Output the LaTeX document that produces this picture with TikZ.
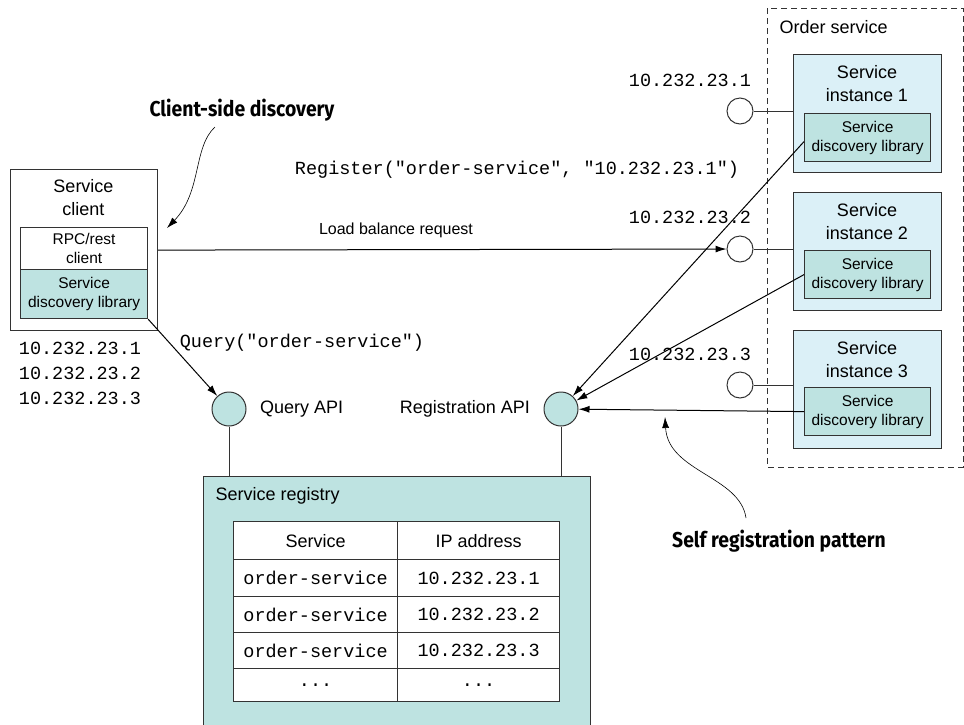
\documentclass[tikz,border=0pt]{standalone}
\usepackage{fontspec}
\setmainfont{Liberation Sans}
\setmonofont{Liberation Mono}
\newfontfamily\calloutfont[FakeStretch=0.9]{Fira Sans}
\usetikzlibrary{arrows.meta}

\definecolor{instblue}{HTML}{DBF0F7}
\definecolor{libteal}{HTML}{BEE3E1}
\definecolor{edgegray}{HTML}{333333}

\newcommand\bigtxt{\fontsize{18}{23}\selectfont}
\newcommand\midtxt{\fontsize{16}{19}\selectfont}
\newcommand\smalltxt{\fontsize{15.5}{19}\selectfont}
\newcommand\codetxt{\ttfamily\fontsize{18.5}{25}\selectfont}
\newcommand\callouttxt{\calloutfont\bfseries\fontsize{21.5}{24}\selectfont}

\tikzset{
  box/.style={draw=edgegray, line width=1.2pt, inner sep=0pt, anchor=north west},
  instbox/.style={box, fill=instblue, minimum width=148, minimum height=118},
  libbox/.style={box, fill=libteal, minimum width=126, minimum height=48, align=center, font=\smalltxt},
  port/.style={circle, draw=edgegray, line width=1pt, fill=white, minimum size=26, inner sep=0pt},
  api/.style={port, fill=libteal, minimum size=34},
  cell/.style={box, fill=white, font=\bigtxt},
  link/.style={draw=edgegray, line width=1pt},
  arr/.style={-{Latex[length=11pt,width=7pt]}, draw=black, line width=1pt},
}

\begin{document}
\begin{tikzpicture}[x=1pt, y=-1pt, font=\bigtxt]
\useasboundingbox (0,0) rectangle (964,724);

% Service client with its two layers
\node[box, minimum width=147, minimum height=161] (client) at (10,169) {};
\node[align=center] (clientlbl) at (83.5,197.5) {Service\\client};
\node[box, fill=white, minimum width=127, minimum height=42, align=center, font=\smalltxt] (rpc) at (20,227) {RPC/rest\\client};
\node[libbox, minimum width=127, minimum height=49] (clilib) at (20,269) {Service\\discovery library};
\node[align=left, font=\codetxt] (cliips) at (80,373) {10.232.23.1\\10.232.23.2\\10.232.23.3};

% Order service instances
\draw[edgegray, line width=1pt, dash pattern=on 6pt off 4pt] (767,8) rectangle (963,467);
\node[anchor=west] (ordersvc) at (776,27) {Order service};

\node[instbox] (inst1) at (793,54) {};
\node[align=center] at (867,83.5) {Service\\instance 1};
\node[libbox] (lib1) at (804,113) {Service\\discovery library};
\node[port] (port1) at (740,111) {};
\draw[link] (port1) -- (port1 -| inst1.west);
\node[font=\codetxt] (ip1) at (690,80) {10.232.23.1};

\node[instbox] (inst2) at (793,192) {};
\node[align=center] at (867,221.5) {Service\\instance 2};
\node[libbox] (lib2) at (804,250) {Service\\discovery library};
\node[port] (port2) at (740,249) {};
\draw[link] (port2) -- (port2 -| inst2.west);
\node[font=\codetxt] (ip2) at (690,217) {10.232.23.2};

\node[instbox] (inst3) at (793,330) {};
\node[align=center] at (867,359.5) {Service\\instance 3};
\node[libbox] (lib3) at (804,387) {Service\\discovery library};
\node[port] (port3) at (740,385) {};
\draw[link] (port3) -- (port3 -| inst3.west);
\node[font=\codetxt] (ip3) at (690,354) {10.232.23.3};

% Service registry and its two APIs
\node[box, fill=libteal, minimum width=387, minimum height=252] (registry) at (203,476) {};
\node[anchor=west] (reglbl) at (212,496) {Service registry};

\node[api] (qapi) at (229,409) {};
\node[anchor=west] at ([xshift=10]qapi.east) {Query API};
\node[api] (rapi) at (561,409) {};
\node[anchor=east] at ([xshift=-10]rapi.west) {Registration API};
\draw[link] (qapi) -- (qapi |- registry.north);
\draw[link] (rapi) -- (rapi |- registry.north);

% table of the registry
\node[cell, minimum width=164, minimum height=38] (svc0) at (233,521) {Service};
\node[cell, minimum width=162, minimum height=38] (ip0) at (397,521) {IP address};
\node[cell, minimum width=164, minimum height=37, font=\codetxt] (svc1) at (233,559) {order-service};
\node[cell, minimum width=162, minimum height=37, font=\codetxt] (ipa1) at (397,559) {10.232.23.1};
\node[cell, minimum width=164, minimum height=36, font=\codetxt] (svc2) at (233,596) {order-service};
\node[cell, minimum width=162, minimum height=36, font=\codetxt] (ipa2) at (397,596) {10.232.23.2};
\node[cell, minimum width=164, minimum height=36, font=\codetxt] (svc3) at (233,632) {order-service};
\node[cell, minimum width=162, minimum height=36, font=\codetxt] (ipa3) at (397,632) {10.232.23.3};
\node[cell, minimum width=164, minimum height=33, font=\codetxt] (svc4) at (233,668) {...};
\node[cell, minimum width=162, minimum height=33, font=\codetxt] (ipa4) at (397,668) {...};

% requests
\draw[arr] (client.east) -- (port2);
\node[font=\midtxt] (lbreq) at (396,230) {Load balance request};
\draw[arr] (clilib.south east) -- (qapi);
\node[font=\codetxt] (query) at (302,343) {Query("order-service")};
\draw[arr] ([yshift=-4]lib1.west) -- (rapi);
\draw[arr] (lib2.west) -- (rapi);
\draw[arr] (lib3.west) -- (rapi);
\node[font=\codetxt] (register) at (517,170) {Register("order-service", "10.232.23.1")};

% callouts
\node[font=\callouttxt] (csd) at (242,110) {Client-side discovery};
\coordinate (csdfrom) at (215,127);
\coordinate (csdto) at (167,228);
\draw[arr, line width=0.6pt] (csdfrom) .. controls (193,147) and (202,192) .. (csdto);
\node[font=\callouttxt] (srp) at (779,541) {Self registration pattern};
\coordinate (srpfrom) at (746,518);
\coordinate (srpto) at (665,417);
\draw[arr, line width=0.6pt] (srpfrom) .. controls (740,476) and (668,472) .. (srpto);

\end{tikzpicture}
\end{document}
